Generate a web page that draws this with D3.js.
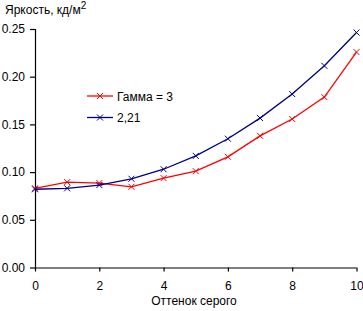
<!DOCTYPE html>
<html>
<head>
<meta charset="utf-8">
<script src="https://cdn.jsdelivr.net/npm/d3@7"></script>
<style>
  body { margin: 0; background: #fff; }
  text { font-family: "Liberation Sans", Arial, sans-serif; font-size: 12px; fill: #000; }
</style>
</head>
<body>
<svg id="chart" width="363" height="311"></svg>
<script>
var shades = [0, 1, 2, 3, 4, 5, 6, 7, 8, 9, 10];
var gamma3 = [0.083, 0.0895, 0.0885, 0.0846, 0.0937, 0.101, 0.116, 0.138, 0.1556, 0.1786, 0.2258];
var gamma221 = [0.082, 0.083, 0.0864, 0.093, 0.103, 0.117, 0.135, 0.1566, 0.1818, 0.2114, 0.2463];
var xTicks = [0, 2, 4, 6, 8, 10];
var yTicks = [0, 0.05, 0.10, 0.15, 0.20, 0.25];
var seriesNames = ['Гамма = 3', '2,21'];
var seriesColors = ['#ff0000', '#000080'];

var svg = d3.select('#chart');

var x = d3.scaleLinear().domain([0, 10]).range([35, 356.5]);
var y = d3.scaleLinear().domain([0, 0.25]).range([267.5, 29]);

// axes
var xAxis = d3.axisBottom(x).tickValues(xTicks).tickSize(4).tickPadding(10).tickFormat(d3.format('d'));
var yAxis = d3.axisLeft(y).tickValues(yTicks).tickSize(5).tickPadding(6).tickFormat(d3.format('.2f'));

var gx = svg.append('g').attr('transform', 'translate(0,' + y(0) + ')').call(xAxis);
var gy = svg.append('g').attr('transform', 'translate(' + x(0) + ',0)').call(yAxis);

[gx, gy].forEach(function(g) {
  g.select('.domain').attr('stroke', '#000').attr('stroke-width', 1.2);
  g.selectAll('.tick line').attr('stroke', '#000').attr('stroke-width', 1.2);
  g.selectAll('.tick text').attr('font-size', 12).attr('font-family', '"Liberation Sans", Arial, sans-serif').attr('fill', '#000');
});
gy.select('.domain').attr('d', 'M0.5,' + y(0.25) + 'V' + y(0));
gx.select('.domain').attr('d', 'M' + x(0) + ',0.5H' + x(10));
gy.selectAll('.tick text').attr('x', -10);

// titles
var title = svg.append('text').attr('x', 5).attr('y', 14).attr('font-size', 12.5);
title.append('tspan').text('Яркость, кд/м');
title.append('tspan').attr('dy', -5).attr('font-size', 10).text('2');

svg.append('text')
    .attr('x', 194)
    .attr('y', 305)
    .attr('text-anchor', 'middle')
    .text('Оттенок серого');

// series
var series = [gamma3, gamma221];
var line = d3.line()
    .x(function(d, i) { return x(shades[i]); })
    .y(function(d) { return y(d); });

function cross(g, cx, cy, color) {
  var s = 3;
  g.append('path')
      .attr('d', 'M' + (cx - s) + ',' + (cy - s) + 'L' + (cx + s) + ',' + (cy + s) +
                 'M' + (cx - s) + ',' + (cy + s) + 'L' + (cx + s) + ',' + (cy - s))
      .attr('stroke', color)
      .attr('stroke-width', 1)
      .attr('fill', 'none');
}

series.forEach(function(vals, k) {
  var g = svg.append('g');
  g.append('path')
      .datum(vals)
      .attr('d', line)
      .attr('fill', 'none')
      .attr('stroke', seriesColors[k])
      .attr('stroke-width', 1.3);
  vals.forEach(function(v, i) {
    cross(g, x(shades[i]), y(v), seriesColors[k]);
  });
});

// legend
var legend = svg.append('g');
seriesNames.forEach(function(name, k) {
  var ly = 96 + k * 21.5;
  legend.append('line')
      .attr('x1', 87).attr('x2', 113)
      .attr('y1', ly).attr('y2', ly)
      .attr('stroke', seriesColors[k])
      .attr('stroke-width', 1.3);
  cross(legend, 100, ly, seriesColors[k]);
  legend.append('text')
      .attr('x', 117)
      .attr('y', ly + 4.5)
      .text(name);
});
</script>
</body>
</html>
